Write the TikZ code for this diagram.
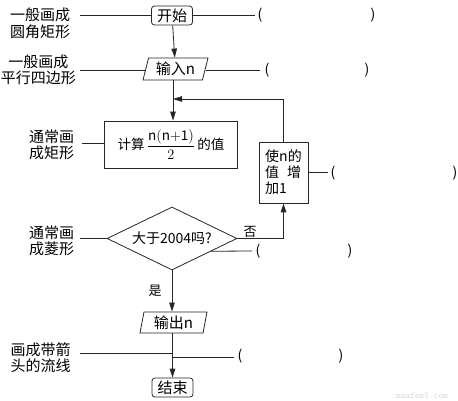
\documentclass[tikz,border=0pt]{standalone}
\usepackage{fontspec}
\setmainfont{Noto Sans CJK SC}
\usetikzlibrary{shapes.geometric,arrows.meta,calc}
\begin{document}
\begin{tikzpicture}[x=1pt,y=-1pt,
  line/.style={draw=black!85, line width=0.8pt},
  arr/.style={line, -{Triangle[length=9pt,width=5.5pt]}},
  term/.style={draw=black!85, line width=0.8pt, rounded corners=3pt, minimum width=41pt, minimum height=19pt, inner sep=0pt, font=\fontsize{15}{17}\selectfont},
  io/.style={trapezium, trapezium stretches body, draw=black!85, line width=0.8pt, minimum height=22pt, inner sep=0pt, font=\fontsize{15}{17}\selectfont},
  procbox/.style={draw=black!85, line width=0.8pt, inner sep=0pt},
  lab/.style={align=center, font=\fontsize{15}{16.5}\selectfont, inner sep=0pt},
  paren/.style={font=\fontsize{14}{16}\selectfont, inner sep=0pt},
  small/.style={font=\fontsize{13}{15}\selectfont, inner sep=0pt}
]
\useasboundingbox (0,0) rectangle (458,401);
\clip (0,0) rectangle (458,401);

% flowchart nodes
\node[term] (start) at (172,15.5) {开始};
\node[io, trapezium left angle=68, trapezium right angle=112, minimum width=65pt] (in) at (175.5,69) {输入n};
\node[procbox, minimum width=133pt, minimum height=47pt, font=\fontsize{13.5}{15}\selectfont] (calc) at (171,144.5) {计算\,$\displaystyle\frac{\mathrm{n(n{+}1)}}{2}$\,的值};
\node[procbox, minimum width=49pt, minimum height=61pt, align=left, font=\fontsize{14}{16}\selectfont] (inc) at (283.5,172.5) {使n的\\值\hspace{8pt}增\\加1};
\node[diamond, draw=black!85, line width=0.8pt, minimum width=130pt, minimum height=63pt, aspect=2, inner sep=0pt, font=\fontsize{14}{16}\selectfont] (dia) at (172,238.5) {大于2004吗?};
\node[io, trapezium left angle=74, trapezium right angle=106, minimum width=67pt, minimum height=21pt] (out) at (173.5,322.5) {输出n};
\node[term] (end) at (172.5,387.5) {结束};

% flow connectors
\draw[arr] (start) -- (in);
\coordinate (j) at (173,99);
\draw[arr] (in.south -| j) -- (calc.north -| j);
\draw[arr] (inc.north) |- (j);
\draw[line, line width=1.4pt, -{Triangle[length=9pt,width=5.5pt]}] (dia.east) -| (inc.south);
\node[small] (no) at (250,232) {否};
\draw[arr] (dia.south) -- (out.north -| dia.south);
\node[small] (yes) at (155,291) {是};
\draw[arr] (out.south -| end.north) -- (end.north);

% left labels
\node[lab] (t1) at (40,23.5) {一般画成\\圆角矩形};
\node[lab] (t2) at (38.5,70) {一般画成\\平行四边形};
\node[lab] (t3) at (51.5,145) {通常画\\成矩形};
\node[lab] (t4) at (51.5,241) {通常画\\成菱形};
\node[lab] (t5) at (40.5,357.5) {画成带箭\\头的流线};

\coordinate (a1) at (80,15.5);
\coordinate (a2) at (80,70);
\coordinate (a3) at (82,143);
\coordinate (a4) at (80,238.5);
\coordinate (a5) at (80,353);
\coordinate (m5) at (172.5,353);
\draw[line] (a1) -- (start.west);
\draw[line] (a2) -- (in.west |- a2);
\draw[line] (a3) -- (calc.west |- a3);
\draw[line] (a4) -- (dia.west);
\draw[line] (a5) -- (m5);

% right answer blanks
\coordinate (b1) at (255,15.5);
\coordinate (b2) at (260,70);
\coordinate (b3) at (328,172.5);
\coordinate (b4) at (252,251);
\coordinate (d4) at ($(dia.east)!0.4!(dia.south)$);
\coordinate (m5b) at (172.5,357);
\coordinate (b5) at (234,357);
\draw[line] (start.east) -- (b1);
\draw[line] (in.east |- b2) -- (b2);
\draw[line] (inc.east |- b3) -- (b3);
\draw[line] (d4) -- (b4);
\draw[line] (m5b) -- (b5);

\node[paren] (p1a) at (260,15.5) {(};
\node[paren] (p1b) at (373,15.5) {)};
\node[paren] (p2a) at (267,70) {(};
\node[paren] (p2b) at (367,70) {)};
\node[paren] (p3a) at (333,173) {(};
\node[paren] (p3b) at (455,173) {)};
\node[paren] (p4a) at (258,251) {(};
\node[paren] (p4b) at (350,251) {)};
\node[paren] (p5a) at (240,356) {(};
\node[paren] (p5b) at (341,356) {)};

% watermark
\node[font=\ttfamily\fontsize{9}{10}\selectfont, text=gray!30, inner sep=0pt] (wm) at (422,396) {manfen5.com};
\end{tikzpicture}
\end{document}
